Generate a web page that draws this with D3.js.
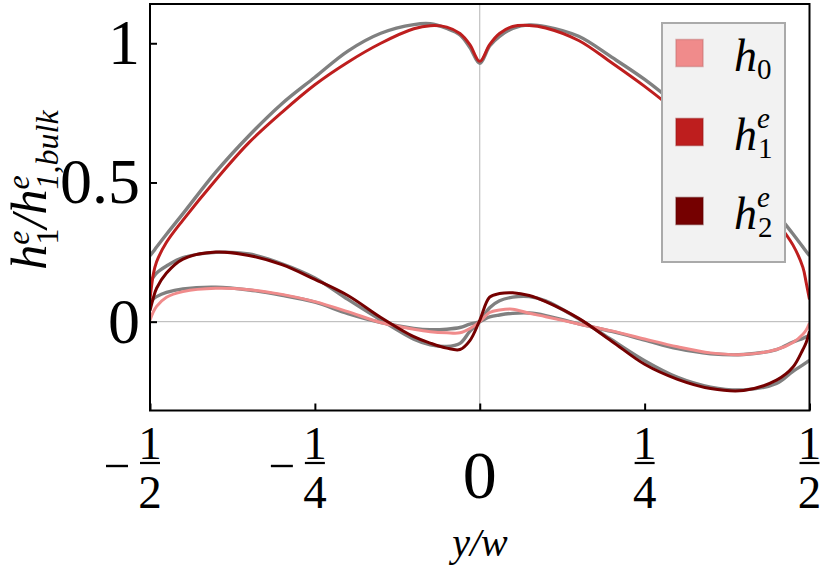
<!DOCTYPE html>
<html>
<head>
<meta charset="utf-8">
<script src="https://cdn.jsdelivr.net/npm/d3@7"></script>
<style>
  body { margin: 0; background: #fff; overflow: hidden; }
</style>
</head>
<body>
<script>
const serif = "Liberation Serif";

// sample positions y/w, shared by all curves
const xGrid = [-0.5, -0.495, -0.49, -0.475, -0.45, -0.4, -0.35, -0.3, -0.25, -0.2, -0.15, -0.1, -0.075, -0.05, -0.03, -0.015,
  0, 0.015, 0.03, 0.05, 0.075, 0.1, 0.15, 0.2, 0.25, 0.3, 0.35, 0.4, 0.45, 0.475, 0.49, 0.495, 0.5];

// h1e and its grey reference curve
const h1e = [0.08, 0.17, 0.215, 0.285, 0.365, 0.51, 0.643, 0.752, 0.851, 0.932, 1.0, 1.052, 1.063, 1.058, 1.035, 0.995,
  0.935, 0.995, 1.035, 1.06, 1.064, 1.055, 1.01, 0.93, 0.845, 0.75, 0.635, 0.505, 0.36, 0.275, 0.195, 0.14, 0.08];
const h1eRef = [0.237, 0.252, 0.268, 0.314, 0.388, 0.538, 0.668, 0.783, 0.878, 0.972, 1.036, 1.067, 1.07, 1.053, 1.03, 0.985,
  0.928, 0.99, 1.025, 1.053, 1.066, 1.06, 1.025, 0.95, 0.87, 0.775, 0.668, 0.538, 0.39, 0.315, 0.268, 0.252, 0.237];

// h2e and reference
const h2e = [0.04, 0.085, 0.12, 0.175, 0.225, 0.25, 0.238, 0.205, 0.152, 0.094, 0.015, -0.054, -0.077, -0.095, -0.1, -0.068,
  0.005, 0.088, 0.101, 0.104, 0.094, 0.072, 0.012, -0.07, -0.153, -0.207, -0.24, -0.247, -0.21, -0.163, -0.1, -0.075, -0.035];
const h2eRef = [0.139, 0.16, 0.175, 0.2, 0.23, 0.249, 0.243, 0.208, 0.157, 0.08, 0.006, -0.063, -0.083, -0.089, -0.078, -0.035,
  0.0, 0.05, 0.075, 0.088, 0.09, 0.075, 0.01, -0.065, -0.14, -0.2, -0.235, -0.245, -0.222, -0.178, -0.155, -0.147, -0.139];

// h0 and reference
const h0 = [0.005, 0.035, 0.055, 0.088, 0.108, 0.12, 0.115, 0.098, 0.072, 0.036, -0.003, -0.027, -0.036, -0.04, -0.04, -0.025,
  0.0, 0.033, 0.042, 0.045, 0.03, 0.018, -0.008, -0.033, -0.062, -0.09, -0.112, -0.118, -0.1, -0.075, -0.045, -0.03, -0.005];
const h0Ref = [0.07, 0.082, 0.09, 0.105, 0.118, 0.124, 0.114, 0.095, 0.07, 0.029, -0.003, -0.024, -0.029, -0.027, -0.021, -0.009,
  0.0, 0.017, 0.024, 0.03, 0.031, 0.022, -0.008, -0.035, -0.066, -0.097, -0.115, -0.118, -0.1, -0.073, -0.06, -0.054, -0.05];

const yTicks = [0, 0.5, 1];
const yTickLabels = ["0", "0.5", "1"];
const xTicks = [-0.5, -0.25, 0, 0.25, 0.5];
const xTickLabels = [[-1, 2], [-1, 4], [0, 1], [1, 4], [1, 2]];  // numerator, denominator

const colors = {h0: "#f08b8b", h1: "#be1e1e", h2: "#750000", ref: "#808080"};

const width = 834, height = 575;
const svg = d3.select("body").append("svg")
    .attr("width", width)
    .attr("height", height)
    .style("font-family", serif);

const plot = {left: 150, right: 809.5, top: 4, bottom: 410.5};

const x = d3.scaleLinear().domain([-0.5, 0.5]).range([plot.left, plot.right]);
const y = d3.scaleLinear().domain([-0.319, 1.141]).range([plot.bottom, plot.top]);

// thin zero lines
svg.append("line")
    .attr("x1", plot.left).attr("x2", plot.right)
    .attr("y1", y(0)).attr("y2", y(0))
    .attr("stroke", "#b4b4b4").attr("stroke-width", 1);
svg.append("line")
    .attr("x1", x(0)).attr("x2", x(0))
    .attr("y1", plot.top).attr("y2", plot.bottom)
    .attr("stroke", "#b4b4b4").attr("stroke-width", 1);

const line = d3.line()
    .x((d, i) => x(xGrid[i]))
    .y(d => y(d))
    .curve(d3.curveCatmullRom.alpha(0.5));

svg.append("clipPath").attr("id", "clip")
    .append("rect")
    .attr("x", plot.left).attr("y", plot.top)
    .attr("width", plot.right - plot.left).attr("height", plot.bottom - plot.top);

const curves = svg.append("g").attr("clip-path", "url(#clip)");

// grey references below the coloured curves
[h1eRef, h2eRef, h0Ref].forEach(s => {
    curves.append("path")
        .attr("d", line(s))
        .attr("fill", "none")
        .attr("stroke", colors.ref)
        .attr("stroke-width", 3.4);
});
[[h0, colors.h0], [h1e, colors.h1], [h2e, colors.h2]].forEach(([s, c]) => {
    curves.append("path")
        .attr("d", line(s))
        .attr("fill", "none")
        .attr("stroke", c)
        .attr("stroke-width", 3);
});

// axes: inward ticks
svg.append("g")
    .attr("transform", `translate(${plot.left},0)`)
    .call(d3.axisLeft(y).tickValues(yTicks).tickSize(-7).tickFormat(""))
    .call(g => g.select(".domain").remove())
    .selectAll("line").attr("stroke", "#000").attr("stroke-width", 2);

svg.append("g")
    .attr("transform", `translate(0,${plot.bottom})`)
    .call(d3.axisBottom(x).tickValues(xTicks).tickSize(-7).tickFormat(""))
    .call(g => g.select(".domain").remove())
    .selectAll("line").attr("stroke", "#000").attr("stroke-width", 2);

// frame
svg.append("rect")
    .attr("x", plot.left).attr("y", plot.top)
    .attr("width", plot.right - plot.left).attr("height", plot.bottom - plot.top)
    .attr("fill", "none").attr("stroke", "#000").attr("stroke-width", 2);

// y tick labels
svg.append("g").selectAll("text")
    .data(yTicks)
    .join("text")
    .attr("x", 140)
    .attr("y", d => y(d) + 21)
    .attr("text-anchor", "end")
    .style("font-family", serif)
    .attr("font-size", 64)
    .text((d, i) => yTickLabels[i]);

// x tick labels, fractions drawn by hand
const xl = svg.append("g").style("font-family", serif);
xTicks.forEach((v, i) => {
    const [num, den] = xTickLabels[i];
    const cx = x(v);
    if (num === 0) {
        xl.append("text").attr("x", cx).attr("y", 498)
            .attr("text-anchor", "middle").attr("font-size", 68).text("0");
        return;
    }
    xl.append("text").attr("x", cx).attr("y", 459)
        .attr("text-anchor", "middle").attr("font-size", 47).text(Math.abs(num));
    xl.append("line").attr("x1", cx - 10).attr("x2", cx + 10)
        .attr("y1", 463).attr("y2", 463)
        .attr("stroke", "#000").attr("stroke-width", 2.2);
    xl.append("text").attr("x", cx).attr("y", 508)
        .attr("text-anchor", "middle").attr("font-size", 47).text(den);
    if (num < 0) {
        xl.append("line").attr("x1", cx - 44).attr("x2", cx - 22)
            .attr("y1", 466).attr("y2", 466)
            .attr("stroke", "#000").attr("stroke-width", 2.4);
    }
});

// x axis label
svg.append("text")
    .attr("x", 480).attr("y", 556)
    .attr("text-anchor", "middle")
    .style("font-family", serif)
    .attr("font-size", 40)
    .attr("font-style", "italic")
    .text("y/w");

// y axis label h1e / h1e,bulk
const yl = svg.append("text")
    .attr("transform", "translate(46,190) rotate(-90)")
    .attr("text-anchor", "middle")
    .style("font-family", serif)
    .attr("font-size", 50)
    .attr("font-style", "italic");
yl.append("tspan").text("h");
yl.append("tspan").attr("font-size", 32).attr("dy", -17).text("e");
yl.append("tspan").attr("font-size", 32).attr("font-style", "normal").attr("dx", -14).attr("dy", 29).text("1");
yl.append("tspan").attr("dy", -12).text("/h");
yl.append("tspan").attr("font-size", 32).attr("dy", -17).text("e");
yl.append("tspan").attr("font-size", 32).attr("dx", -14).attr("dy", 29).text("1,bulk");

// legend
const legendItems = [
    {name: "h", sub: "0", sup: "", color: colors.h0},
    {name: "h", sub: "1", sup: "e", color: colors.h1},
    {name: "h", sub: "2", sup: "e", color: colors.h2}
];
const lg = svg.append("g").style("font-family", serif);
lg.append("rect")
    .attr("x", 662).attr("y", 23)
    .attr("width", 123).attr("height", 239)
    .attr("fill", "#f2f2f2").attr("stroke", "#aaaaaa").attr("stroke-width", 2);
legendItems.forEach((d, i) => {
    const cy = 53 + i * 79;
    lg.append("rect")
        .attr("x", 676).attr("y", cy - 13.5)
        .attr("width", 27).attr("height", 27)
        .attr("fill", d.color)
        .attr("stroke", d3.color(d.color).darker(0.6)).attr("stroke-opacity", 0.5).attr("stroke-width", 1.5);
    const t = lg.append("text")
        .attr("x", 734).attr("y", cy + 18)
        .attr("font-size", 46).attr("font-style", "italic");
    t.append("tspan").text(d.name);
    if (d.sup) {
        t.append("tspan").attr("font-size", 29).attr("dy", -22).text(d.sup);
        t.append("tspan").attr("font-size", 29).attr("font-style", "normal").attr("dx", -12).attr("dy", 30).text(d.sub);
    } else {
        t.append("tspan").attr("font-size", 29).attr("font-style", "normal").attr("dy", 8).text(d.sub);
    }
});
</script>
</body>
</html>
